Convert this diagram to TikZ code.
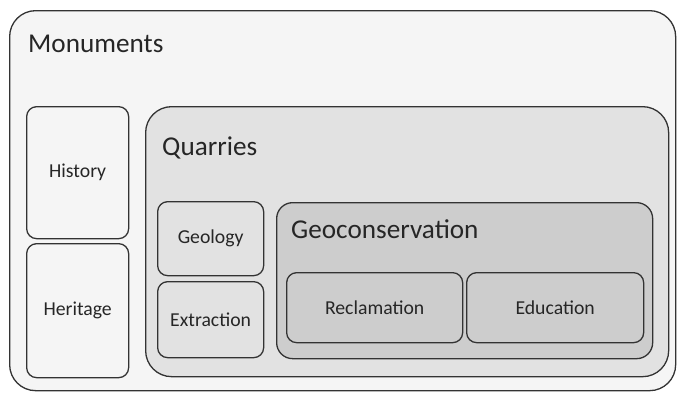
\documentclass[tikz,border=0pt]{standalone}
\usepackage{fontspec}
\setmainfont{Carlito}
\definecolor{fillA}{HTML}{F5F5F5}
\definecolor{fillB}{HTML}{E2E2E2}
\definecolor{fillC}{HTML}{CDCDCD}
\definecolor{edge}{HTML}{333333}
\definecolor{txt}{HTML}{262626}
\tikzset{
  box/.style={draw=edge, line width=1.3bp, rectangle, inner sep=0pt, anchor=north west, text=txt},
  small/.style={box, rounded corners=10bp, font=\fontsize{19.8}{22}\selectfont},
  title/.style={anchor=base west, inner sep=0pt, text=txt, font=\fontsize{27.3}{31}\selectfont}
}
\begin{document}
\begin{tikzpicture}[x=1bp, y=-1bp]
\useasboundingbox (0,0) rectangle (677,392);
\node[box, fill=fillA, rounded corners=26bp, minimum width=666bp, minimum height=380bp] (mon) at (9,10) {};
\node[title] (montxt) at (28,52) {Monuments};
\node[small, fill=fillA, minimum width=102bp, minimum height=132bp] (hist) at (26,106) {History};
\node[small, fill=fillA, minimum width=102bp, minimum height=134bp] (heri) at (26,243) {Heritage};
\node[box, fill=fillB, rounded corners=26bp, minimum width=523bp, minimum height=270bp] (quar) at (145,106) {};
\node[title] (quartxt) at (162,155) {Quarries};
\node[small, fill=fillB, minimum width=106bp, minimum height=74bp] (geol) at (157,201) {Geology};
\node[small, fill=fillB, minimum width=106bp, minimum height=76bp] (extr) at (157,281) {Extraction};
\node[box, fill=fillC, rounded corners=16bp, minimum width=376bp, minimum height=156bp] (geoc) at (276,202) {};
\node[title] (geoctxt) at (291,238) {Geoconservation};
\node[small, fill=fillC, minimum width=176bp, minimum height=70bp] (recl) at (286,272) {Reclamation};
\node[small, fill=fillC, minimum width=177bp, minimum height=70bp] (educ) at (466,272) {Education};
\end{tikzpicture}
\end{document}
